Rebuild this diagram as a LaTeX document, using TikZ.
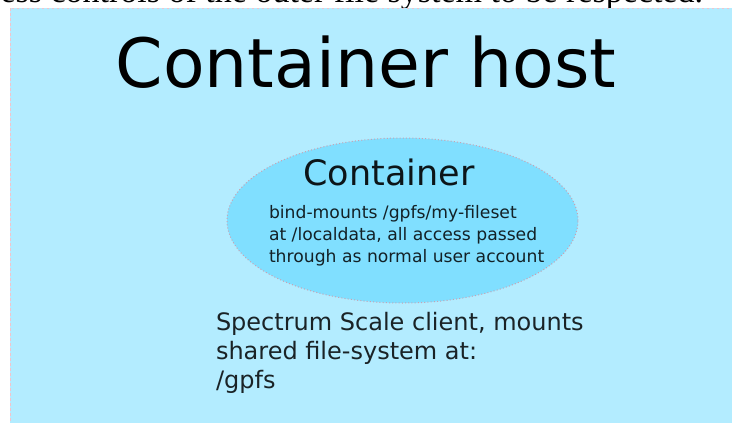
\documentclass[tikz,border=0pt]{standalone}
\usepackage{fontspec}
\setmainfont{DejaVu Sans}
\newfontfamily\capfont{Liberation Serif}
\usetikzlibrary{shapes.geometric}
\definecolor{hostfill}{HTML}{B3ECFF}
\definecolor{contfill}{HTML}{80DFFF}
\definecolor{hostborder}{HTML}{F2C4CC}
\definecolor{contborder}{HTML}{C8A2B2}
\tikzset{
  plain/.style={inner sep=0pt, outer sep=0pt},
  hostbox/.style={fill=hostfill, draw=hostborder, line width=1pt, dash pattern=on 2.5pt off 2.5pt},
  contshape/.style={ellipse, fill=contfill, draw=contborder, line width=1pt, dash pattern=on 1pt off 2.2pt, minimum width=351pt, minimum height=165pt, inner sep=0pt},
  bodytext/.style={plain, align=left, text opacity=0.85}
}
\begin{document}
\begin{tikzpicture}[x=1pt,y=-1pt]
\useasboundingbox (0,0) rectangle (732,423);
\clip (0,0) rectangle (732,423);
\node[plain, anchor=base east, font=\capfont\fontsize{34}{36}\selectfont] (caption) at (703,2) {ess controls of the outer file system to be respected.};
\draw[hostbox] (10,8) rectangle (760,450);
\node[plain, anchor=base, font=\fontsize{68}{72}\selectfont] (host) at (366,87) {Container host};
\node[contshape] (cont) at (402.5,220.5) {};
\node[plain, anchor=base, font=\fontsize{35}{38}\selectfont, text opacity=0.9] (conttitle) at (389,185) {Container};
\node[bodytext, anchor=base west, font=\fontsize{17.2}{21.7}\selectfont] (contdesc) at (269,262) {bind-mounts /gpfs/my-fileset\\at /localdata, all access passed\\through as normal user account};
\node[bodytext, anchor=base west, font=\fontsize{24}{29}\selectfont] (hostdesc) at (216,388) {Spectrum Scale client, mounts\\shared file-system at:\\/gpfs};
\end{tikzpicture}
\end{document}
